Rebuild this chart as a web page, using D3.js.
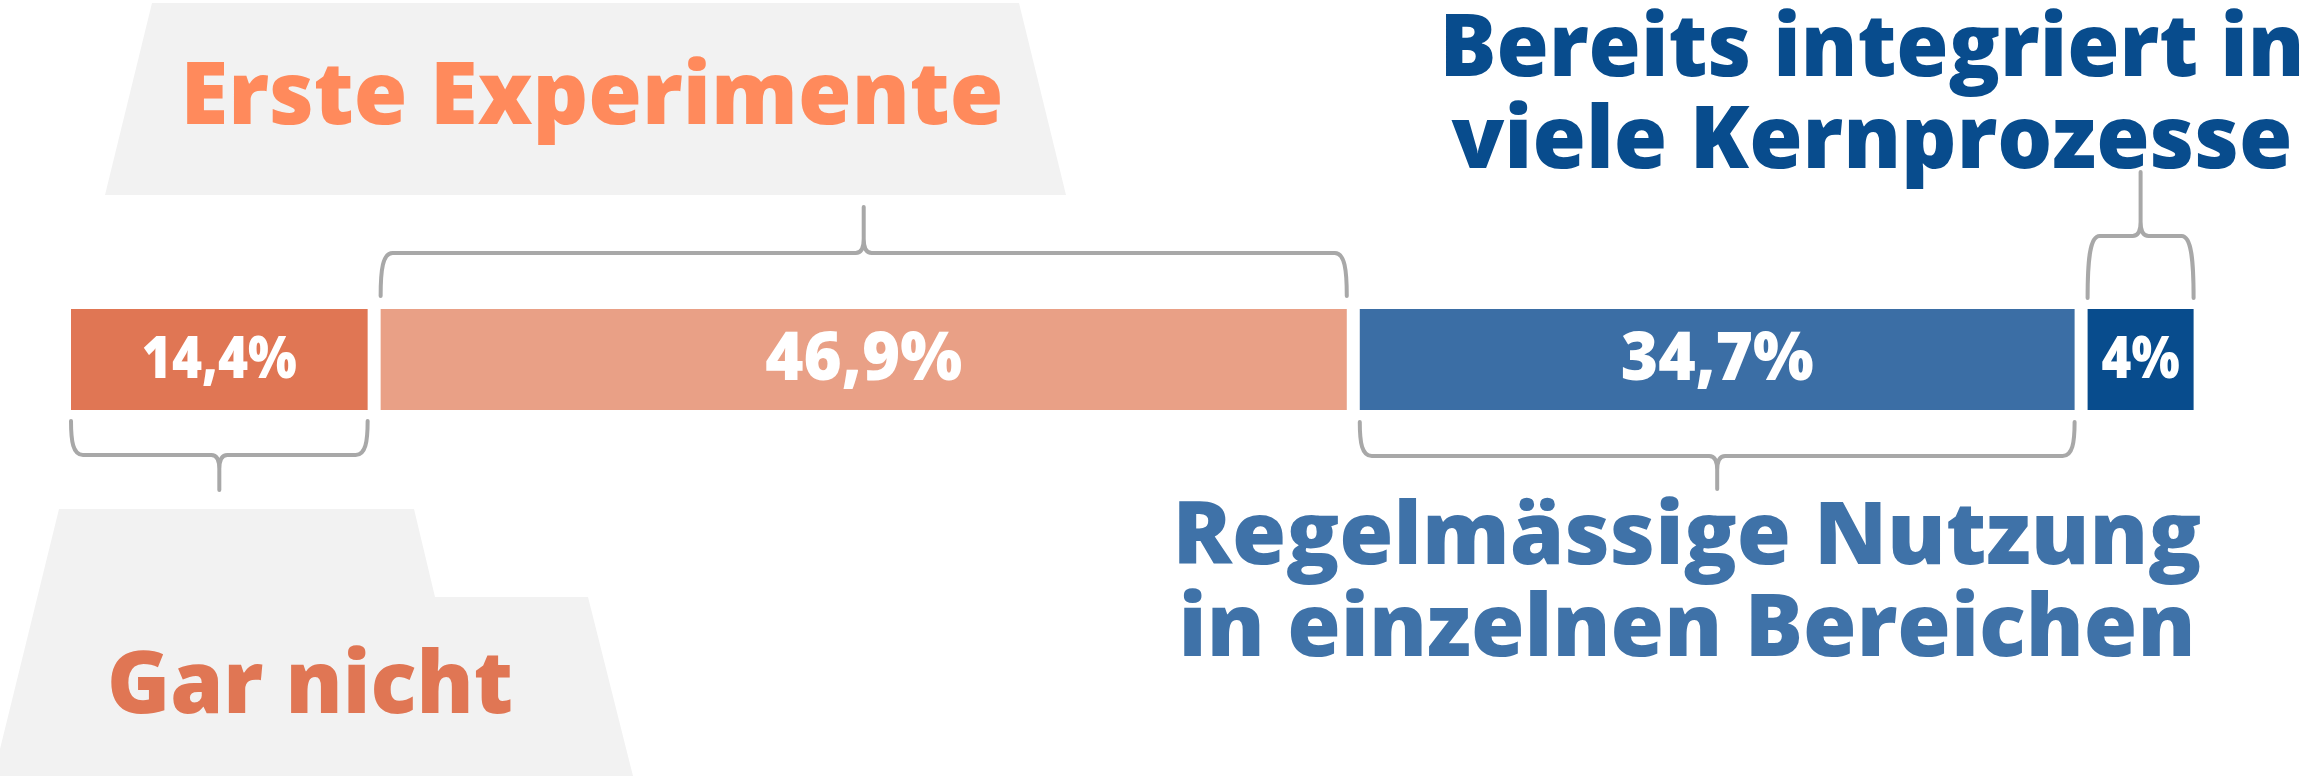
<!DOCTYPE html>
<html>
<head>
<meta charset="utf-8">
<script src="https://cdn.jsdelivr.net/npm/d3@7"></script>
<style>
  body { margin: 0; background: #fff; }
  svg { display: block; }
  text { font-family: "Open Sans", "Lato", sans-serif; font-weight: 800; }
</style>
</head>
<body>
<div id="stage"></div>
<script>
// data
const categories = ["Gar nicht", "Erste Experimente", "Regelmässige Nutzung in einzelnen Bereichen", "Bereits integriert in viele Kernprozesse"];
const categoryLines = [["Gar nicht"], ["Erste Experimente"], ["Regelmässige Nutzung", "in einzelnen Bereichen"], ["Bereits integriert in", "viele Kernprozesse"]];
const values = [14.4, 46.9, 34.7, 4];
const barColors = ["#E07654", "#E9A086", "#3B6EA5", "#084C8D"];
const titleColors = ["#E07654", "#FF8A5C", "#3F72A8", "#084C8D"];

// layout
const W = 2313, H = 776;
const barTop = 309, barH = 101, gap = 13, minBar = 106, left = 71;
const titleSize = 87, lineGap = 92;
const titleLayout = [
  { cx: 310, y: 713, widths: [406] },
  { cx: 592, y: 124, widths: [823] },
  { cx: 1687, y: 564, widths: [1029, 1017] },
  { cx: 1872, y: 76, widths: [865, 841] }
];
const labelWidths = [155, 197, 193, 78];
const braceLayout = [
  { end: 421, line: 455, tip: 490 },
  { end: 296, line: 253, tip: 207 },
  { end: 422, line: 456, tip: 489 },
  { end: 298, line: 236, tip: 172 }
];
const plates = [
  [[59, 509], [414, 509], [435, 597], [588, 597], [633, 776], [0, 776], [0, 749]],
  [[152, 3], [1019, 3], [1066, 195], [105, 195]]
];

const x = d3.scaleLinear().domain([0, 100]).range([0, 2060]);
const de = d3.formatLocale({ decimal: ",", thousands: ".", grouping: [3], currency: ["", "€"] });
const fmt = v => de.format(".1~f")(v) + "%";

let cursor = left;
const bars = values.map((v, i) => {
  const w = Math.max(x(v), minBar);
  const b = { i, v, name: categories[i], x: cursor, w };
  cursor += w + gap;
  return b;
});

const svg = d3.select("#stage").append("svg")
  .attr("width", W)
  .attr("height", H);

svg.append("rect").attr("width", W).attr("height", H).attr("fill", "#fff");

// label plates
svg.selectAll(".plate")
  .data(plates)
  .join("polygon")
  .attr("class", "plate")
  .attr("points", d => d.map(p => p.join(",")).join(" "))
  .attr("fill", "#F2F2F2");

// category titles, one text per line
const titleRows = bars.flatMap(d => categoryLines[d.i].map((t, k) => ({ t, k, i: d.i })));

svg.selectAll(".title")
  .data(titleRows)
  .join("text")
  .attr("class", "title")
  .attr("x", d => titleLayout[d.i].cx)
  .attr("y", d => titleLayout[d.i].y + d.k * lineGap)
  .attr("text-anchor", "middle")
  .attr("font-size", titleSize)
  .attr("fill", d => titleColors[d.i])
  .attr("textLength", d => titleLayout[d.i].widths[d.k])
  .attr("lengthAdjust", "spacingAndGlyphs")
  .text(d => d.t);

// bars
svg.selectAll(".bar")
  .data(bars)
  .join("rect")
  .attr("class", "bar")
  .attr("x", d => d.x)
  .attr("y", barTop)
  .attr("width", d => d.w)
  .attr("height", barH)
  .attr("fill", d => barColors[d.i]);

svg.selectAll(".val")
  .data(bars)
  .join("text")
  .attr("class", "val")
  .attr("x", d => d.x + d.w / 2)
  .attr("y", d => d.w < 400 ? 378 : 380)
  .attr("text-anchor", "middle")
  .attr("font-size", d => d.w < 400 ? 58 : 68)
  .attr("fill", "#fff")
  .attr("textLength", d => labelWidths[d.i])
  .attr("lengthAdjust", "spacingAndGlyphs")
  .text(d => fmt(d.v));

// braces
const bracePath = d => {
  const b = braceLayout[d.i];
  const x0 = d.x, x1 = d.x + d.w, xm = d.x + d.w / 2;
  const dir = Math.sign(b.tip - b.line);
  const arm = b.line - b.end;
  const r = 12;
  return `M${x0},${b.end}` +
    `C${x0},${b.end + arm * 0.6} ${x0 + 2},${b.line} ${x0 + r},${b.line}` +
    `L${xm - 8},${b.line}` +
    `Q${xm},${b.line} ${xm},${b.line + dir * 14}` +
    `L${xm},${b.tip}` +
    `M${xm},${b.line + dir * 14}` +
    `Q${xm},${b.line} ${xm + 8},${b.line}` +
    `L${x1 - r},${b.line}` +
    `C${x1 - 2},${b.line} ${x1},${b.end + arm * 0.6} ${x1},${b.end}`;
};

svg.selectAll(".brace")
  .data(bars)
  .join("path")
  .attr("class", "brace")
  .attr("d", bracePath)
  .attr("fill", "none")
  .attr("stroke", "#A8A8A8")
  .attr("stroke-width", 4)
  .attr("stroke-linecap", "round")
  .attr("stroke-linejoin", "round");
</script>
</body>
</html>
